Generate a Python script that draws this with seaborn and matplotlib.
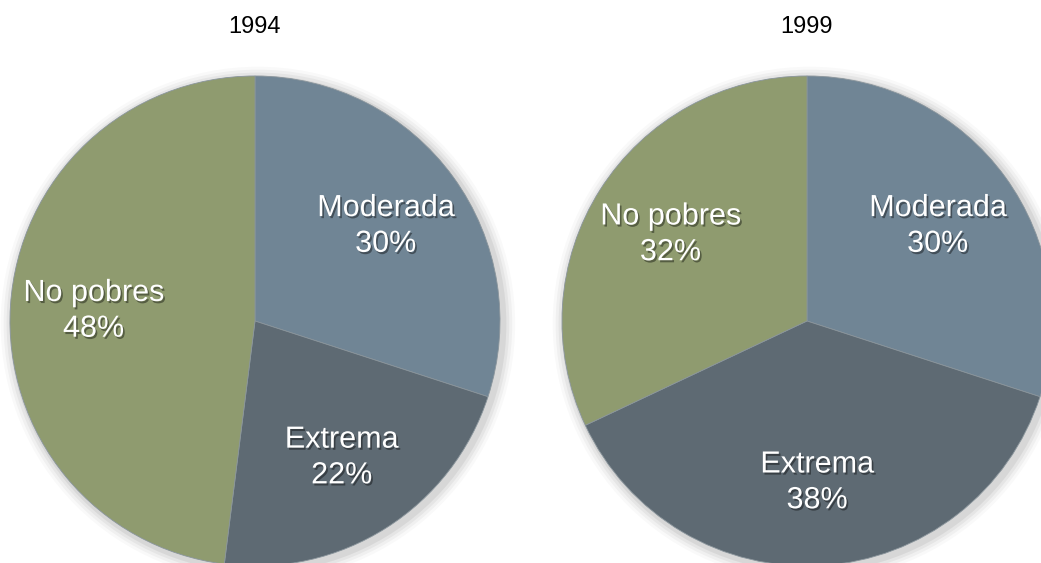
import matplotlib
matplotlib.use("Agg")
import matplotlib.pyplot as plt
import matplotlib.patheffects as pe
import seaborn as sns

sns.set_theme(style="white")
plt.rcParams['font.family'] = ['Liberation Sans', 'DejaVu Sans']

categories = ["Moderada", "Extrema", "No pobres"]
years = ["1994", "1999"]
values_1994 = [30, 22, 48]
values_1999 = [30, 38, 32]
colors = ["#708595", "#5e6a73", "#8f9b6f"]

fig = plt.figure(figsize=(10.41, 5.63), dpi=100)
W, H = 1041, 563
R = 245
centers = [(255, 321), (807, 321)]

txt_fx = [pe.withSimplePatchShadow(offset=(1.2, -1.5), shadow_rgbFace="black", alpha=0.4)]

for (cx, cy), year, vals in zip(centers, years, [values_1994, values_1999]):
    ax = fig.add_axes([(cx - R) / W, (H - cy - R) / H, 2 * R / W, 2 * R / H])
    # soft drop shadow
    for d, a in [(0.05, 0.025), (0.038, 0.035), (0.026, 0.045), (0.014, 0.06)]:
        ax.add_patch(plt.Circle((0.012, -0.012), 1 + d, color="black", alpha=a,
                                lw=0, zorder=0, clip_on=False))
    labels = [f"{c}\n{v}%" for c, v in zip(categories, vals)]
    wedges, texts = ax.pie(vals, labels=labels, colors=colors, startangle=90,
                           counterclock=False, radius=1, labeldistance=0.66,
                           wedgeprops=dict(linewidth=0.6, edgecolor="#8a959c"),
                           textprops=dict(color="white", fontsize=22, ha="center",
                                          va="center", linespacing=1.25))
    for w in wedges:
        w.set_zorder(2)
    for t in texts:
        t.set_horizontalalignment("center")
        t.set_multialignment("center")
        t.set_path_effects(txt_fx)
        t.set_zorder(3)
    ax.set_xlim(-1, 1)
    ax.set_ylim(-1, 1)
    ax.set_aspect("equal")
    ax.axis("off")
    fig.text(cx / W, 1 - 27 / H, year, ha="center", va="center", fontsize=17, color="black")

fig.savefig("out.png", dpi=100)
